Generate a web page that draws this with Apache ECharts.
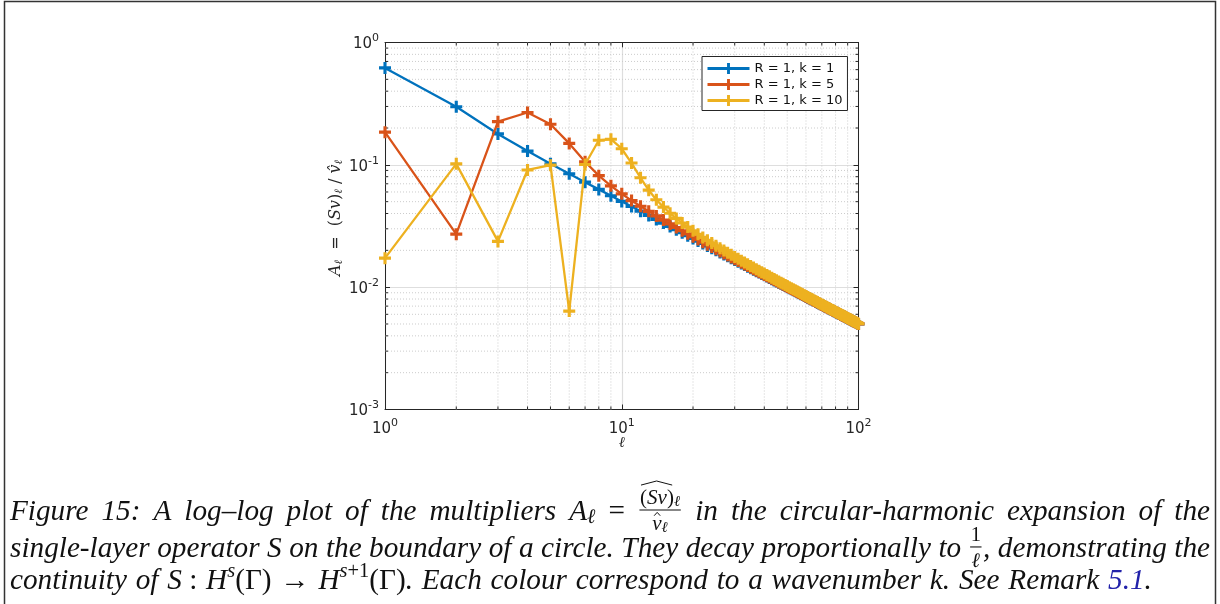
<!DOCTYPE html>
<html><head><meta charset="utf-8">
<script src="https://cdn.jsdelivr.net/npm/echarts@6/dist/echarts.min.js"></script>
<style>html,body{margin:0;padding:0;background:#fff}#c{width:1220px;height:604px}</style>
</head><body><div id="c"></div>
<script>
// ---------------- data ----------------
const ell = [1,2,3,4,5,6,7,8,9,10,11,12,13,14,15,16,17,18,19,20,21,22,23,24,25,26,27,28,29,30,31,32,33,34,35,36,37,38,39,40,41,42,43,44,45,46,47,48,49,50,51,52,53,54,55,56,57,58,59,60,61,62,63,64,65,66,67,68,69,70,71,72,73,74,75,76,77,78,79,80,81,82,83,84,85,86,87,88,89,90,91,92,93,94,95,96,97,98,99,100];
const seriesNames = ['R = 1, k = 1', 'R = 1, k = 5', 'R = 1, k = 10'];
const k1 = [0.620,0.2987,0.1789,0.1295,0.1021,0.08452,0.07217,0.06299,0.05590,0.05025,
0.04564,0.04181,0.03858,0.03581,0.03341,0.03131,0.02946,0.02782,0.02635,0.02503,
0.02381,0.02273,0.02174,0.02083,0.02000,0.01923,0.01852,0.01786,0.01724,0.01667,
0.01613,0.01563,0.01515,0.01471,0.01429,0.01389,0.01351,0.01316,0.01282,0.01250,
0.01220,0.01190,0.01163,0.01136,0.01111,0.01087,0.01064,0.01042,0.01020,0.01000,
0.009804,0.009615,0.009434,0.009259,0.009091,0.008929,0.008772,0.008621,0.008475,0.008333,
0.008197,0.008065,0.007937,0.007813,0.007692,0.007576,0.007463,0.007353,0.007246,0.007143,
0.007042,0.006944,0.006849,0.006757,0.006667,0.006579,0.006494,0.006410,0.006329,0.006250,
0.006173,0.006098,0.006024,0.005952,0.005882,0.005814,0.005747,0.005682,0.005618,0.005556,
0.005495,0.005435,0.005376,0.005319,0.005263,0.005208,0.005155,0.005102,0.005051,0.005000];
const k5 = [0.1850,0.02711,0.2253,0.2678,0.2147,0.1497,0.1060,0.08160,0.06730,0.05795,
0.05103,0.04584,0.04167,0.03824,0.03536,0.03290,0.03077,0.02892,0.02728,0.02582,
0.02451,0.02334,0.02227,0.02130,0.02041,0.01960,0.01884,0.01815,0.01750,0.01690,
0.01634,0.01582,0.01533,0.01486,0.01443,0.01402,0.01364,0.01327,0.01293,0.01260,
0.01229,0.01199,0.01171,0.01144,0.01118,0.01093,0.01070,0.01047,0.01026,0.01005,
0.009851,0.009660,0.009476,0.009299,0.009129,0.008965,0.008806,0.008653,0.008505,0.008362,
0.008225,0.008091,0.007962,0.007837,0.007715,0.007598,0.007484,0.007373,0.007265,0.007161,
0.007060,0.006961,0.006865,0.006772,0.006682,0.006593,0.006508,0.006423,0.006342,0.006262,
0.006185,0.006109,0.006035,0.005963,0.005892,0.005824,0.005757,0.005691,0.005627,0.005565,
0.005503,0.005443,0.005384,0.005327,0.005270,0.005215,0.005162,0.005109,0.005057,0.005006];
const k10 = [0.01726,0.1019,0.02366,0.09076,0.09942,0.006376,0.1006,0.1587,0.1620,0.1354,
0.1034,0.07838,0.06206,0.05184,0.04512,0.04020,0.03648,0.03346,0.03098,0.02887,
0.02708,0.02552,0.02414,0.02292,0.02182,0.02083,0.01994,0.01912,0.01837,0.01768,
0.01704,0.01645,0.01590,0.01539,0.01491,0.01446,0.01404,0.01364,0.01326,0.01291,
0.01257,0.01226,0.01196,0.01167,0.01140,0.01114,0.01089,0.01065,0.01042,0.01021,
0.009998,0.009798,0.009607,0.009422,0.009245,0.009074,0.008910,0.008752,0.008599,0.008452,
0.008309,0.008171,0.008038,0.007910,0.007785,0.007664,0.007547,0.007434,0.007324,0.007217,
0.007113,0.007013,0.006914,0.006819,0.006727,0.006637,0.006549,0.006464,0.006380,0.006299,
0.006220,0.006143,0.006068,0.005995,0.005923,0.005854,0.005786,0.005719,0.005654,0.005590,
0.005528,0.005467,0.005408,0.005350,0.005293,0.005237,0.005182,0.005129,0.005076,0.005025];
const xRange = [1, 100];
const yRange = [0.001, 1];
const xMinorTicks = [2,3,4,5,6,7,8,9,20,30,40,50,60,70,80,90];
const yMinorTicks = [0.002,0.003,0.004,0.005,0.006,0.007,0.008,0.009,0.02,0.03,0.04,0.05,0.06,0.07,0.08,0.09,0.2,0.3,0.4,0.5,0.6,0.7,0.8,0.9];
const colors = ['#0072BD', '#D95319', '#EDB120'];

// ---------------- styles ----------------
const AX = '#262626';
const PLUS = 'path://M3.7,0H6.3V3.7H10V6.3H6.3V10H3.7V6.3H0V3.7H3.7Z';
const tickRich = {
  b: { fontSize: 15, fontFamily: 'DejaVu Sans', color: AX, verticalAlign: 'bottom' },
  e: { fontSize: 11, fontFamily: 'DejaVu Sans', color: AX, verticalAlign: 'top', padding: [0, 0, 8, 0] }
};
function expFmt(v) { return '{b|10}{e|' + Math.round(Math.log10(v)) + '}'; }

const chart = echarts.init(document.getElementById('c'), null, { renderer: 'canvas' });

function minorX(params, api) {
  const v = api.value(0);
  const b = api.coord([v, yRange[0]]), t = api.coord([v, yRange[1]]);
  return { type: 'group', children: [
    { type: 'line', shape: { x1: b[0], y1: b[1], x2: t[0], y2: t[1] }, style: { stroke: '#cccccc', lineWidth: 1, lineDash: [1, 2] } },
    { type: 'line', shape: { x1: b[0], y1: b[1], x2: b[0], y2: b[1] - 3 }, style: { stroke: AX, lineWidth: 1 } },
    { type: 'line', shape: { x1: t[0], y1: t[1], x2: t[0], y2: t[1] + 3 }, style: { stroke: AX, lineWidth: 1 } }
  ]};
}
function minorY(params, api) {
  const v = api.value(1);
  const l = api.coord([xRange[0], v]), r = api.coord([xRange[1], v]);
  return { type: 'group', children: [
    { type: 'line', shape: { x1: l[0], y1: l[1], x2: r[0], y2: r[1] }, style: { stroke: '#cccccc', lineWidth: 1, lineDash: [1, 2] } },
    { type: 'line', shape: { x1: l[0], y1: l[1], x2: l[0] + 3, y2: l[1] }, style: { stroke: AX, lineWidth: 1 } },
    { type: 'line', shape: { x1: r[0], y1: r[1], x2: r[0] - 3, y2: r[1] }, style: { stroke: AX, lineWidth: 1 } }
  ]};
}

const lineSeries = [k1, k5, k10].map((arr, i) => ({
  name: seriesNames[i], type: 'line', xAxisIndex: 0, yAxisIndex: 0,
  data: ell.map((x, j) => [x, arr[j]]),
  symbol: PLUS, symbolSize: 12, showSymbol: true,
  lineStyle: { width: 2.3, color: colors[i] }, itemStyle: { color: colors[i] },
  z: 5 + i, emphasis: { disabled: true }, silent: true
}));

// ---------------- caption layout ----------------
const capFamily = '"Liberation Serif", "DejaVu Serif", serif';
const cv = document.createElement('canvas').getContext('2d');
let FS = 26;
function fontOf(r) { return (r.up ? 'normal ' : 'italic ') + (FS * (r.s || 1)).toFixed(2) + 'px ' + capFamily; }
function rw(r) {
  if (r.frac) return Math.max(sw(r.num), sw(r.den)) + FS * 0.14;
  cv.font = fontOf(r); return cv.measureText(r.t).width;
}
function sw(rs) { let w = 0; for (const r of rs) w += rw(r); return w; }
function hatEl(x1, x2, y, h) {
  return { type: 'polyline', shape: { points: [[x1, y], [(x1 + x2) / 2, y - h], [x2, y]] }, style: { stroke: '#111', lineWidth: 1, fill: null }, silent: true };
}
function emit(rs, x, y, out) {
  for (const r of rs) {
    const w = rw(r);
    if (r.frac) {
      const nw = sw(r.num), dw = sw(r.den);
      const nx = x + (w - nw) / 2, ny = y - FS * 0.47;
      emit(r.num, nx, ny, out);
      emit(r.den, x + (w - dw) / 2, y + FS * 0.43, out);
      out.push({ type: 'line', shape: { x1: x + FS * 0.05, y1: y - FS * 0.07, x2: x + w - FS * 0.05, y2: y - FS * 0.07 }, style: { stroke: '#111', lineWidth: 1.1 }, silent: true });
      if (r.numHat) out.push(hatEl(nx + 1, nx + nw * r.numHat, ny - FS * 0.45, FS * 0.14));
    } else {
      const fs = FS * (r.s || 1);
      const yy = y + (r.dy || 0) * FS;
      out.push({ type: 'text', silent: true, style: { text: r.t, x: x, y: yy, fontSize: fs, fontStyle: r.up ? 'normal' : 'italic', fontFamily: capFamily, fill: r.c || '#111', align: 'left', verticalAlign: 'middle', textAlign: 'left', textVerticalAlign: 'middle' } });
      if (r.hat) out.push(hatEl(x + w * 0.2, x + w * 0.85, yy - fs * 0.42, fs * 0.16));
    }
    x += w;
  }
}
const T = t => ({ t });
const U = t => ({ t, up: 1 });
const capLines = [
  { y: 512, justify: true, words: [
    [T('Figure')], [T('15:')], [T('A')], [T('log–log')], [T('plot')], [T('of')], [T('the')], [T('multipliers')],
    [T('A'), { t: 'ℓ', s: 0.7, dy: 0.2 }], [U('=')],
    [{ frac: true, numHat: 0.8, num: [{ t: '(', up: 1, s: 0.72 }, { t: 'Sv', s: 0.72 }, { t: ')', up: 1, s: 0.72 }, { t: 'ℓ', s: 0.52, dy: 0.12 }],
       den: [{ t: 'v', s: 0.72, hat: 1 }, { t: 'ℓ', s: 0.52, dy: 0.1 }] }],
    [T('in')], [T('the')], [T('circular-harmonic')], [T('expansion')], [T('of')], [T('the')]
  ]},
  { y: 549, justify: true, words: [
    [T('single-layer')], [T('operator')], [T('S')], [T('on')], [T('the')], [T('boundary')], [T('of')], [T('a')], [T('circle.')],
    [T('They')], [T('decay')], [T('proportionally')], [T('to')],
    [{ frac: true, num: [{ t: '1', up: 1, s: 0.7 }], den: [{ t: 'ℓ', s: 0.7 }] }, T(',')],
    [T('demonstrating')], [T('the')]
  ]},
  { y: 581, justify: false, words: [
    [T('continuity')], [T('of')], [T('S'), U(' :')], [T('H'), { t: 's', s: 0.7, dy: -0.32 }, U('(Γ)')], [U('→')],
    [T('H'), { t: 's', s: 0.7, dy: -0.32 }, { t: '+1', up: 1, s: 0.7, dy: -0.32 }, U('(Γ)'), T('.')],
    [T('Each')], [T('colour')], [T('correspond')], [T('to')], [T('a')], [T('wavenumber')], [T('k.')], [T('See')], [T('Remark')],
    [{ t: '5.1', c: '#2222aa' }, T('.')]
  ]}
];
(function fit() {
  const last = capLines[2].words;
  let w = 0; for (const wd of last) w += sw(wd);
  w += 0.3 * FS * (last.length - 1);
  FS = FS * 1142 / w;
  FS = Math.max(20, Math.min(30, FS));
})();
const captionEls = [];
for (const line of capLines) {
  const ws = line.words.map(sw);
  const total = ws.reduce((a, b) => a + b, 0);
  const gap = line.justify ? (1200 - total) / (line.words.length - 1) : 0.3 * FS;
  let x = 10;
  line.words.forEach((wd, i) => { emit(wd, x, line.y, captionEls); x += ws[i] + gap; });
}

// ---------------- option ----------------
const option = {
  animation: false,
  backgroundColor: '#fff',
  grid: { left: 385, top: 42.5, right: 361.5, bottom: 194.5, containLabel: false },
  legend: {
    data: seriesNames, orient: 'vertical', left: 702, top: 56.5,
    itemWidth: 42, itemHeight: 14, itemGap: 2,
    padding: [5, 5, 3, 4], borderColor: AX, borderWidth: 1, backgroundColor: '#fff',
    lineStyle: { width: 3 },
    textStyle: { fontSize: 13, lineHeight: 14, fontFamily: 'DejaVu Sans', color: '#111' },
    selectedMode: false
  },
  xAxis: [
    { type: 'log', logBase: 10, min: xRange[0], max: xRange[1], position: 'bottom',
      name: 'ℓ', nameLocation: 'middle', nameGap: 26, nameMoveOverlap: false,
      nameTextStyle: { fontSize: 15, fontStyle: 'italic', fontFamily: 'DejaVu Serif', color: AX },
      axisLine: { lineStyle: { color: AX, width: 1 } },
      axisTick: { inside: true, length: 5, lineStyle: { color: AX } },
      axisLabel: { formatter: expFmt, rich: tickRich, margin: 8, showMinLabel: true, showMaxLabel: true },
      splitLine: { show: true, lineStyle: { color: '#dedede', width: 1.2 } } },
    { type: 'log', logBase: 10, min: xRange[0], max: xRange[1], position: 'top',
      axisLine: { lineStyle: { color: AX, width: 1 } },
      axisTick: { inside: true, length: 5, lineStyle: { color: AX } },
      axisLabel: { show: false }, splitLine: { show: false } }
  ],
  yAxis: [
    { type: 'log', logBase: 10, min: yRange[0], max: yRange[1], position: 'left',
      name: '{i|A}{sb|ℓ}{r|  =  (}{i|Sv}{r|)}{sb|ℓ}{r| / }{i|v\u0302}{sb|ℓ}', nameLocation: 'middle', nameGap: 40, nameRotate: 90,
      nameTextStyle: { color: AX, padding: [0, 0, 0, 16], rich: {
        i: { fontSize: 16, fontStyle: 'italic', fontFamily: 'DejaVu Serif', color: AX, verticalAlign: 'middle' },
        r: { fontSize: 16, fontFamily: 'DejaVu Serif', color: AX, verticalAlign: 'middle' },
        sb: { fontSize: 11, fontStyle: 'italic', fontFamily: 'DejaVu Serif', color: AX, verticalAlign: 'bottom', padding: [7, 0, 0, 0] }
      } },
      axisLine: { lineStyle: { color: AX, width: 1 } },
      axisTick: { inside: true, length: 5, lineStyle: { color: AX } },
      axisLabel: { formatter: expFmt, rich: tickRich, margin: 6, showMinLabel: true, showMaxLabel: true },
      splitLine: { show: true, lineStyle: { color: '#dedede', width: 1.2 } } },
    { type: 'log', logBase: 10, min: yRange[0], max: yRange[1], position: 'right',
      axisLine: { lineStyle: { color: AX, width: 1 } },
      axisTick: { inside: true, length: 5, lineStyle: { color: AX } },
      axisLabel: { show: false }, splitLine: { show: false } }
  ],
  series: [
    { type: 'custom', name: 'xminor', xAxisIndex: 0, yAxisIndex: 0, z: 1, silent: true, clip: false,
      data: xMinorTicks.map(v => [v, yRange[0]]), encode: { x: 0, y: 1 }, renderItem: minorX },
    { type: 'custom', name: 'yminor', xAxisIndex: 0, yAxisIndex: 0, z: 1, silent: true, clip: false,
      data: yMinorTicks.map(v => [xRange[0], v]), encode: { x: 0, y: 1 }, renderItem: minorY },
    ...lineSeries
  ],
  graphic: [
    { type: 'rect', silent: true, z: 100, shape: { x: 4.5, y: 1.5, width: 1211, height: 700 }, style: { stroke: '#333', lineWidth: 1.5, fill: null } },
    { type: 'group', silent: true, z: 100, children: captionEls }
  ]
};
chart.setOption(option);
</script></body></html>
